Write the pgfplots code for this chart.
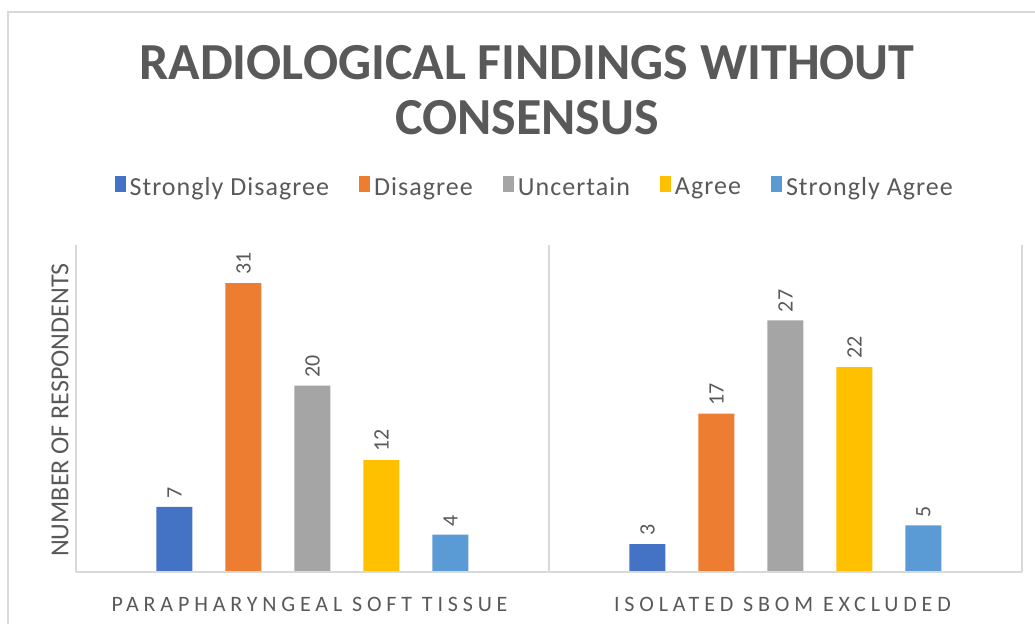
\documentclass[border=0pt]{standalone}
\usepackage{fontspec}
\setmainfont{Carlito}
\newfontfamily\spaced[LetterSpace=22]{Carlito}
\newfontfamily\legfont[LetterSpace=4]{Carlito}
\usepackage{pgfplots}
\pgfplotsset{compat=1.18}
\definecolor{xlblue}{HTML}{4472C4}
\definecolor{xlorange}{HTML}{ED7D31}
\definecolor{xlgray}{HTML}{A5A5A5}
\definecolor{xlyellow}{HTML}{FFC000}
\definecolor{xllight}{HTML}{5B9BD5}
\definecolor{txtgray}{HTML}{595959}
\definecolor{linegray}{HTML}{D9D9D9}

\begin{document}
\begin{tikzpicture}
\useasboundingbox (-38pt,-26pt) rectangle (479.5pt,286pt);
\draw[linegray, line width=1.2pt] (-34pt,-30pt) -- (-34pt,280pt) -- (485pt,280pt);
\node[text=txtgray, font=\fontsize{26}{27.5}\selectfont\bfseries, align=center]
  at (225.5pt,241pt) {RADIOLOGICAL FINDINGS WITHOUT\\CONSENSUS};
\begin{axis}[
  at={(0pt,0pt)}, anchor=south west,
  scale only axis, width=473pt, height=163.5pt,
  xmin=-0.5, xmax=1.5, ymin=0, ymax=35.1,
  ybar=16.5pt, bar width=18pt,
  clip=false,
  axis line style={draw=none},
  ytick=\empty,
  xtick={0,1},
  xticklabels={PARAPHARYNGEAL SOFT TISSUE, ISOLATED SBOM EXCLUDED},
  major tick length=0pt,
  xticklabel style={anchor=base, yshift=-20pt, xshift=-1.5pt,
    font=\spaced\fontsize{11}{13}\selectfont, text=txtgray},
  ylabel={NUMBER OF RESPONDENTS},
  ylabel style={at={(axis description cs:-0.017,0.495)}, anchor=center, rotate=0,
    font=\fontsize{13}{15}\selectfont, text=txtgray},
  nodes near coords,
  /pgf/number format/assume math mode=true,
  every node near coord/.append style={rotate=90, anchor=west, inner sep=4pt,
    font=\fontsize{11}{13}\selectfont, text=txtgray},
  legend columns=5,
  legend style={draw=none, fill=none, at={(0.486,1.175)}, anchor=center,
    font=\legfont\fontsize{13}{15}\selectfont, text=txtgray,
    /tikz/every even column/.append style={column sep=13pt}},
  legend image code/.code={\fill[#1] (0pt,-2pt) rectangle (5.5pt,6pt);},
]
\addplot[fill=xlblue, draw=none] coordinates {(0,7) (1,3)};
\addlegendentry{Strongly Disagree}
\addplot[fill=xlorange, draw=none] coordinates {(0,31) (1,17)};
\addlegendentry{Disagree}
\addplot[fill=xlgray, draw=none] coordinates {(0,20) (1,27)};
\addlegendentry{Uncertain}
\addplot[fill=xlyellow, draw=none] coordinates {(0,12) (1,22)};
\addlegendentry{Agree}
\addplot[fill=xllight, draw=none] coordinates {(0,4) (1,5)};
\addlegendentry{Strongly Agree}
\draw[linegray, line width=1.2pt] (axis cs:-0.5,0) -- (axis cs:1.5,0);
\draw[linegray, line width=1.2pt] (axis cs:-0.5,0) -- (axis cs:-0.5,35.1);
\draw[linegray, line width=1.2pt] (axis cs:0.5,0) -- (axis cs:0.5,35.1);
\draw[linegray, line width=1.2pt] (axis cs:1.5,0) -- (axis cs:1.5,35.1);
\end{axis}
\end{tikzpicture}
\end{document}
